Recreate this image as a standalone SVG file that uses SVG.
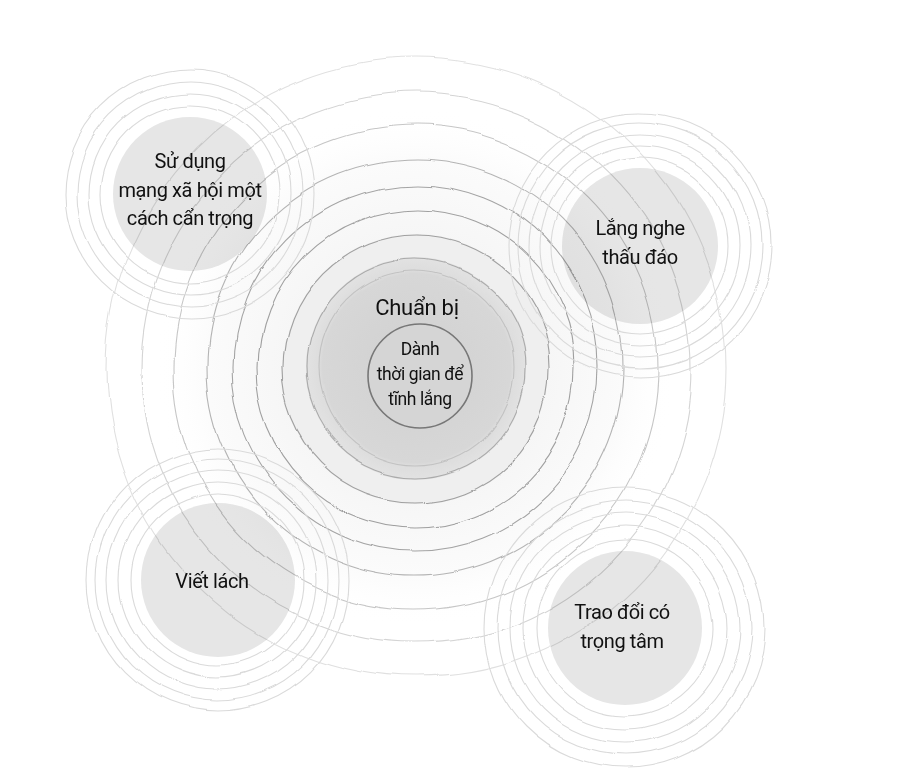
<svg xmlns="http://www.w3.org/2000/svg" width="900" height="784" viewBox="0 0 900 784">
  <style>
    .lbl { font-family: Roboto, "Noto Sans", "Liberation Sans", sans-serif; fill: #111111; text-anchor: middle; }
    .big { font-size: 20px; letter-spacing: -0.4px; }
    .mid { font-size: 22px; letter-spacing: -0.3px; }
    .small { font-size: 17.5px; letter-spacing: -0.4px; }
    .ring { fill: none; stroke-width: 1.1; }
    .oring { fill: none; stroke: #dadada; stroke-width: 1.1; }
    .disk { fill: #e6e6e6; mix-blend-mode: multiply; }
  </style>
  <defs>
    <radialGradient id="halo" cx="416" cy="368" r="260" gradientUnits="userSpaceOnUse">
      <stop offset="0" stop-color="#f1f1f1"/>
      <stop offset="0.5" stop-color="#f6f6f6"/>
      <stop offset="0.8" stop-color="#fbfbfb"/>
      <stop offset="1" stop-color="#ffffff" stop-opacity="0"/>
    </radialGradient>
    <radialGradient id="core" cx="416" cy="368" r="110" gradientUnits="userSpaceOnUse">
      <stop offset="0" stop-color="#d0d0d0"/>
      <stop offset="0.85" stop-color="#d7d7d7"/>
      <stop offset="0.88" stop-color="#dddddd"/>
      <stop offset="1" stop-color="#e2e2e2"/>
    </radialGradient>
    <filter id="wobA" filterUnits="userSpaceOnUse" x="0" y="0" width="900" height="784" color-interpolation-filters="sRGB">
      <feTurbulence type="fractalNoise" baseFrequency="0.011" numOctaves="1" seed="4" result="n"/>
      <feDisplacementMap in="SourceGraphic" in2="n" scale="13" xChannelSelector="R" yChannelSelector="G" result="d"/>
      <feGaussianBlur in="d" stdDeviation="0.45"/>
    </filter>
    <filter id="wobB" filterUnits="userSpaceOnUse" x="0" y="0" width="900" height="784" color-interpolation-filters="sRGB">
      <feTurbulence type="fractalNoise" baseFrequency="0.014" numOctaves="1" seed="11" result="n"/>
      <feDisplacementMap in="SourceGraphic" in2="n" scale="8" xChannelSelector="R" yChannelSelector="G" result="d"/>
      <feGaussianBlur in="d" stdDeviation="0.45"/>
    </filter>
  </defs>

  <rect width="900" height="784" fill="#ffffff"/>

  <g id="node-center">
    <circle cx="416" cy="368" r="260" fill="url(#halo)"/>
    <g filter="url(#wobA)">
      <circle cx="416" cy="368" r="134" fill="#efefef"/>
      <circle cx="416" cy="368" r="110" fill="url(#core)"/>
      <circle class="ring" cx="416" cy="368" r="310" stroke="#e0e0e0"/>
      <circle class="ring" cx="416" cy="368" r="275" stroke="#d4d4d4"/>
      <circle class="ring" cx="416" cy="368" r="242" stroke="#c6c6c6"/>
      <circle class="ring" cx="416" cy="368" r="208" stroke="#b4b4b4"/>
      <circle class="ring" cx="416" cy="368" r="183" stroke="#a4a4a4"/>
      <circle class="ring" cx="416" cy="368" r="159" stroke="#a0a0a0"/>
      <circle class="ring" cx="416" cy="368" r="133" stroke="#a0a0a0"/>
      <circle class="ring" cx="416" cy="368" r="109" stroke="#aaaaaa"/>
      <circle class="ring" cx="416" cy="368" r="97" stroke="#c2c2c2"/>
    </g>
    <circle cx="420" cy="376" r="52" fill="#d5d5d5" stroke="#777777" stroke-width="1.6"/>
    <text class="lbl mid" x="417" y="315">Chuẩn bị</text>
    <text class="lbl small" x="420" y="355">Dành</text>
    <text class="lbl small" x="420" y="380">thời gian để</text>
    <text class="lbl small" x="420" y="405">tĩnh lắng</text>
  </g>

  <g id="node-social">
    <circle class="disk" cx="190" cy="194" r="77"/>
    <g filter="url(#wobB)">
      <circle class="oring" cx="190" cy="194" r="89"/>
      <circle class="oring" cx="190" cy="194" r="101"/>
      <circle class="oring" cx="190" cy="194" r="113"/>
      <circle class="oring" cx="190" cy="194" r="125" stroke="#e3e3e3"/>
    </g>
    <text class="lbl big" x="190" y="168">Sử dụng</text>
    <text class="lbl big" x="190" y="197">mạng xã hội một</text>
    <text class="lbl big" x="190" y="225">cách cẩn trọng</text>
  </g>

  <g id="node-listen">
    <circle class="disk" cx="640" cy="246" r="78"/>
    <g filter="url(#wobB)">
      <circle class="oring" cx="640" cy="246" r="88"/>
      <circle class="oring" cx="640" cy="246" r="100"/>
      <circle class="oring" cx="640" cy="246" r="111"/>
      <circle class="oring" cx="640" cy="246" r="123"/>
      <circle class="oring" cx="640" cy="246" r="132" stroke="#e6e6e6"/>
    </g>
    <text class="lbl big" x="640" y="235">Lắng nghe</text>
    <text class="lbl big" x="640" y="264">thấu đáo</text>
  </g>

  <g id="node-write">
    <circle class="disk" cx="218" cy="580" r="77"/>
    <g filter="url(#wobB)">
      <circle class="oring" cx="218" cy="580" r="86"/>
      <circle class="oring" cx="218" cy="580" r="98"/>
      <circle class="oring" cx="218" cy="580" r="110"/>
      <circle class="oring" cx="218" cy="580" r="121"/>
      <circle class="oring" cx="218" cy="580" r="131" stroke="#e6e6e6"/>
    </g>
    <text class="lbl big" x="212" y="588">Viết lách</text>
  </g>

  <g id="node-exchange">
    <circle class="disk" cx="625" cy="628" r="77"/>
    <g filter="url(#wobB)">
      <circle class="oring" cx="625" cy="628" r="88"/>
      <circle class="oring" cx="625" cy="628" r="102"/>
      <circle class="oring" cx="625" cy="628" r="115"/>
      <circle class="oring" cx="625" cy="628" r="127"/>
      <circle class="oring" cx="625" cy="628" r="140" stroke="#e6e6e6"/>
    </g>
    <text class="lbl big" x="622" y="619">Trao đổi có</text>
    <text class="lbl big" x="622" y="648">trọng tâm</text>
  </g>

  <g id="connectors"/>
</svg>
